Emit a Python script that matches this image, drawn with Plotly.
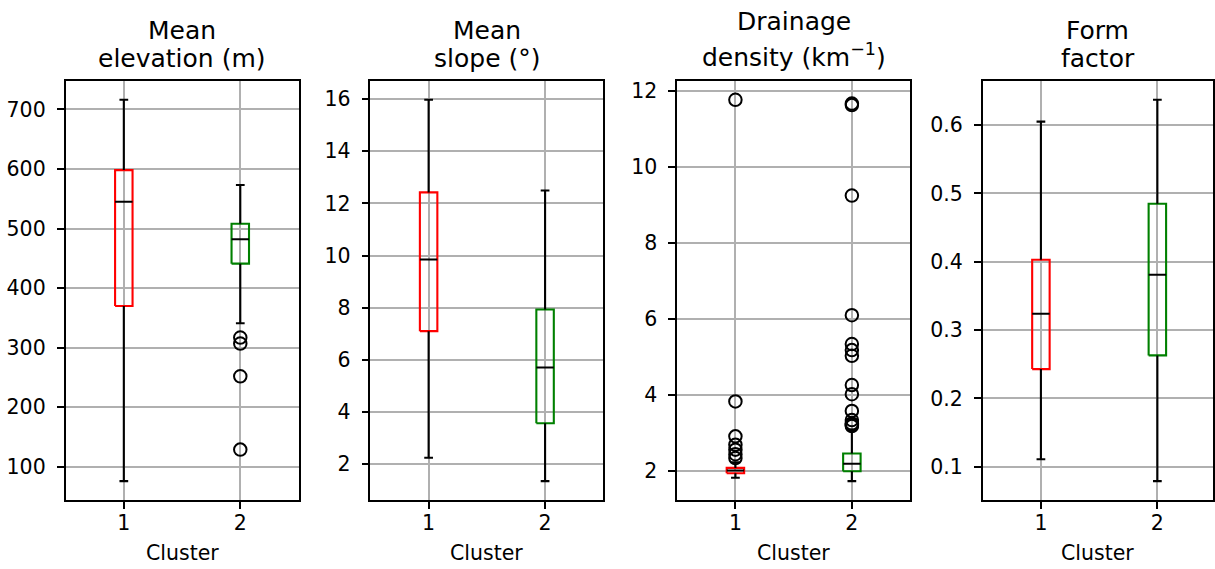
import plotly.graph_objects as go

# ---------------- data ----------------
clusters = ["1", "2"]
positions = [1, 2]

title_line1 = ["Mean", "Mean", "Drainage", "Form"]
title_line2 = ["elevation (m)", "slope (°)", "density (km<sup>−1</sup>)", "factor"]

# stats per panel: [cluster1, cluster2] -> (whisker_low, q1, median, q3, whisker_high)
elev_stats = [(76, 370, 545, 598, 716), (341, 441, 482, 508, 573)]
elev_outliers = [[], [317, 307, 252, 129]]

slope_stats = [(2.25, 7.1, 9.85, 12.42, 15.97), (1.35, 3.57, 5.71, 7.93, 12.49)]
slope_outliers = [[], []]

dd_stats = [(1.81, 1.93, 2.0, 2.07, 2.22), (1.72, 1.98, 2.18, 2.45, 3.08)]
dd_outliers = [
    [11.76, 3.82, 2.9, 2.68, 2.55, 2.43, 2.33],
    [11.66, 11.62, 9.24, 6.09, 5.33, 5.17, 5.02, 4.25, 4.01, 3.57, 3.33, 3.24, 3.21, 3.19, 3.17],
]

ff_stats = [(0.111, 0.243, 0.324, 0.403, 0.605), (0.079, 0.263, 0.381, 0.485, 0.637)]
ff_outliers = [[], []]

panels = [
    (elev_stats, elev_outliers, 100),
    (slope_stats, slope_outliers, 2),
    (dd_stats, dd_outliers, 2),
    (ff_stats, ff_outliers, 0.1),
]

box_colors = ["#ff0000", "#008000"]

# ---------------- layout geometry ----------------
W, H = 1215, 569
lefts = [65.7, 371.0, 678.3, 984.3]
pw = 233.3
top_px, bot_px = 79, 500
FONT = "DejaVu Sans"
TICK = 20.5
TITLE = 25

def py(px):
    return 1 - px / H

fig = go.Figure()
hw = 0.075   # half box width (data units)
cw = 0.0375  # half cap width
LW = 2.1

for i, (stats, outl, dt) in enumerate(panels):
    n = i + 1
    xa = "x" if n == 1 else f"x{n}"
    ya = "y" if n == 1 else f"y{n}"
    for c, p in enumerate(positions):
        wl, q1, med, q3, wh = stats[c]
        # box
        fig.add_trace(go.Scatter(x=[p - hw, p + hw, p + hw, p - hw, p - hw],
                                 y=[q1, q1, q3, q3, q1], mode="lines",
                                 line=dict(color=box_colors[c], width=LW),
                                 xaxis=xa, yaxis=ya, showlegend=False, hoverinfo="skip"))
        # median
        fig.add_trace(go.Scatter(x=[p - hw, p + hw], y=[med, med], mode="lines",
                                 line=dict(color="black", width=LW),
                                 xaxis=xa, yaxis=ya, showlegend=False, hoverinfo="skip"))
        # whiskers
        fig.add_trace(go.Scatter(x=[p, p, None, p, p], y=[wl, q1, None, q3, wh], mode="lines",
                                 line=dict(color="black", width=LW),
                                 xaxis=xa, yaxis=ya, showlegend=False, hoverinfo="skip"))
        # caps
        fig.add_trace(go.Scatter(x=[p - cw, p + cw, None, p - cw, p + cw],
                                 y=[wl, wl, None, wh, wh], mode="lines",
                                 line=dict(color="black", width=LW),
                                 xaxis=xa, yaxis=ya, showlegend=False, hoverinfo="skip"))
        # fliers
        if outl[c]:
            fig.add_trace(go.Scatter(x=[p] * len(outl[c]), y=outl[c], mode="markers",
                                     marker=dict(symbol="circle-open", size=12.5, color="black",
                                                 line=dict(color="black", width=2)),
                                     xaxis=xa, yaxis=ya, showlegend=False, hoverinfo="skip"))

    vals = [v for s in stats for v in (s[0], s[4])] + [v for o in outl for v in o]
    lo, hi = min(vals), max(vals)
    pad = 0.05 * (hi - lo)

    x0 = lefts[i] / W
    x1 = min((lefts[i] + pw) / W, 1.0)
    xr_hi = 2.5 if x1 < 1.0 else 0.5 + 2.0 * (W - lefts[i]) / pw
    axis_common = dict(showgrid=True, gridcolor="#b0b0b0", gridwidth=1.6,
                       showline=True, mirror=True, linecolor="black", linewidth=1.6,
                       ticks="outside", ticklen=7, tickwidth=1.6, tickcolor="black",
                       zeroline=False, tickfont=dict(family=FONT, size=TICK, color="black"))
    fig.update_layout(**{
        f"xaxis{'' if n == 1 else n}": dict(domain=[x0, x1], anchor=ya, range=[0.5, xr_hi],
                                            tickmode="array", tickvals=positions, ticktext=clusters,
                                            ticklabelstandoff=-4, **axis_common),
        f"yaxis{'' if n == 1 else n}": dict(domain=[py(bot_px), py(top_px)], anchor=xa,
                                            range=[lo - pad, hi + pad], dtick=dt, tick0=0,
                                            ticklabelstandoff=7, **axis_common),
    })

    xd = f"{xa} domain"
    line1_y = 20 if i == 2 else 29
    line2_y = 54 if i == 2 else 57
    fig.add_annotation(text=title_line1[i], xref=xd, x=0.5, yref="paper", y=py(line1_y),
                       xanchor="center", yanchor="middle", showarrow=False,
                       font=dict(family=FONT, size=TITLE, color="black"))
    fig.add_annotation(text=title_line2[i], xref=xd, x=0.5, yref="paper", y=py(line2_y),
                       xanchor="center", yanchor="middle", showarrow=False,
                       font=dict(family=FONT, size=TITLE, color="black"))
    fig.add_annotation(text="Cluster", xref=xd, x=0.5, yref="paper", y=py(553),
                       xanchor="center", yanchor="middle", showarrow=False,
                       font=dict(family=FONT, size=TICK, color="black"))

fig.update_layout(width=W, height=H, margin=dict(l=0, r=0, t=0, b=0),
                  plot_bgcolor="white", paper_bgcolor="white",
                  font=dict(family=FONT, color="black"), showlegend=False)

fig.write_html("out.html", config={"displayModeBar": False},
               post_script="document.body.style.margin='0';document.body.style.overflow='hidden';")
